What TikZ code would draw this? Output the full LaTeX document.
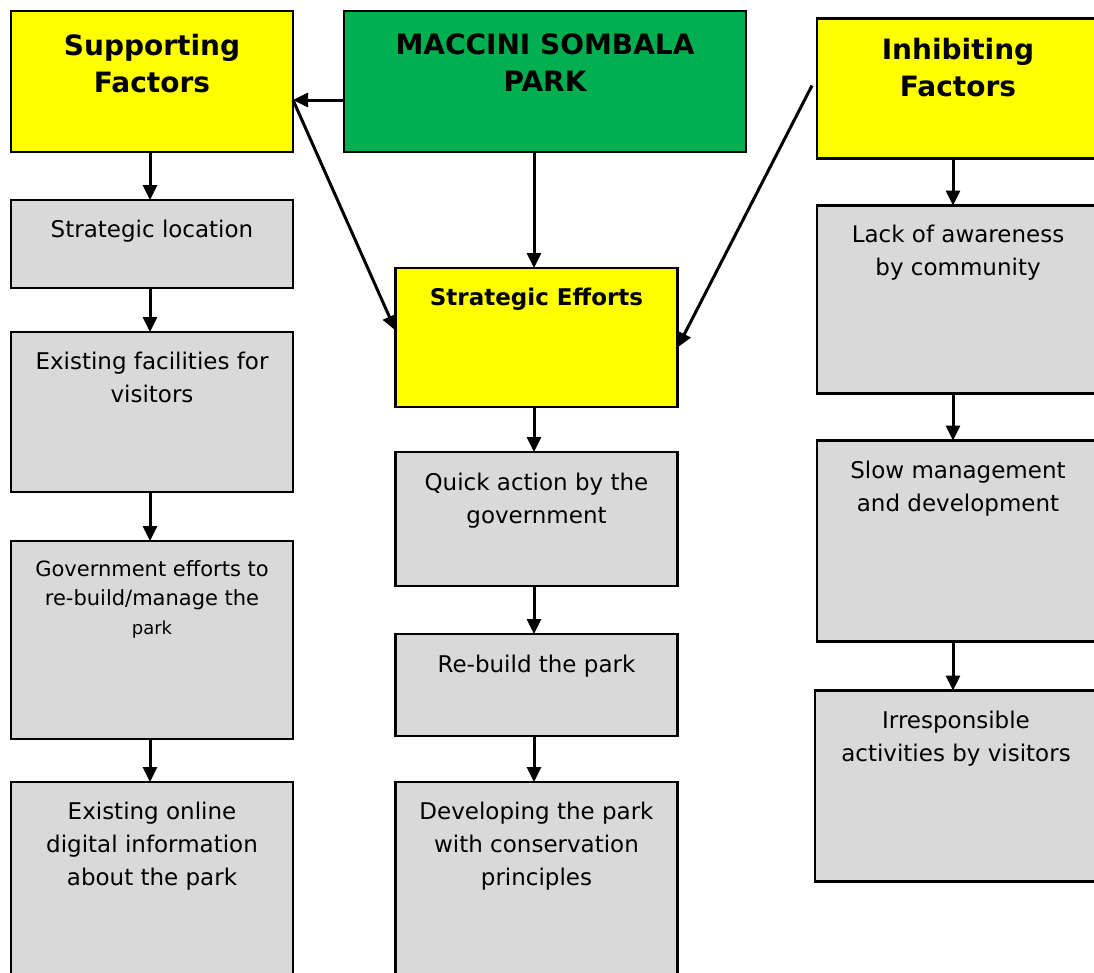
\documentclass[tikz,border=0pt]{standalone}
\usepackage{fontspec}
\setmainfont{DejaVu Sans}
\usepackage{tikz}
\usetikzlibrary{arrows.meta,positioning}
\definecolor{FYellow}{HTML}{FFFF00}
\definecolor{FGreen}{HTML}{00B050}
\definecolor{FGray}{HTML}{D9D9D9}
\newcommand{\celltext}[4][282pt]{\parbox[c][#2][t]{#1}{\centering\rule{0pt}{#3}#4\par}}

\begin{document}
\begin{tikzpicture}[x=1pt,y=-1pt,
  n/.style={draw,line width=2.2pt,fill=FGray,inner sep=0pt,outer sep=0pt,
    font=\fontsize{23}{33}\selectfont},
  h/.style={n,fill=FYellow,font=\bfseries\fontsize{28}{37}\selectfont},
  a/.style={-{Triangle[length=15pt,width=14pt]},line width=3pt}
]
  \useasboundingbox (0,0) rectangle (1094,972);
  % top row
  \node[h,anchor=north west] (support) at (11,11)
    {\celltext{141pt}{44pt}{Supporting\\Factors}};
  \node[h,fill=FGreen,right=51pt of support] (park)
    {\celltext[402pt]{141pt}{43pt}{MACCINI SOMBALA\\PARK}};
  \node[h,right=71pt of park,yshift=-7pt] (inhibit)
    {\celltext{140pt}{41pt}{Inhibiting\\Factors}};
  \node[h,font=\bfseries\fontsize{23}{33}\selectfont,below=116pt of park,xshift=-8.5pt] (efforts)
    {\celltext{139pt}{37pt}{Strategic Efforts}};
  % supporting column
  \node[n,below=48pt of support] (location) {\celltext{88pt}{37pt}{Strategic location}};
  \node[n,below=44pt of location] (facility) {\celltext{160pt}{37pt}{Existing facilities for\\visitors}};
  \node[n,font=\fontsize{21}{29}\selectfont,below=49pt of facility] (govt)
    {\celltext{198pt}{35pt}{Government efforts to\\re-build/manage the\\{\fontsize{18}{22}\selectfont park}}};
  \node[n,below=43pt of govt] (online) {\celltext{220pt}{37pt}{Existing online\\digital information\\about the park}};
  % efforts column
  \node[n,below=45pt of efforts] (quick) {\celltext{134pt}{38pt}{Quick action by the\\government}};
  \node[n,below=48pt of quick] (rebuild) {\celltext{102pt}{38pt}{Re-build the park}};
  \node[n,below=46pt of rebuild] (develop) {\celltext{220pt}{37pt}{Developing the park\\with conservation\\principles}};
  % inhibiting column
  \node[n,below=47pt of inhibit] (aware) {\celltext{188pt}{37pt}{Lack of awareness\\by community}};
  \node[n,below=47pt of aware] (slow) {\celltext{201pt}{38pt}{Slow management\\and development}};
  \node[n,below=49pt of slow,xshift=-2pt] (visitor) {\celltext{191pt}{38pt}{Irresponsible\\activities by visitors}};
  % connectors
  \coordinate (sjoin) at ([yshift=-18.5pt]support.east);
  \draw[a] (park.west |- sjoin) -- (sjoin);
  \draw[a] (sjoin) -- ([yshift=7pt]efforts.west);
  \draw[a] ([xshift=-5pt,yshift=3pt]inhibit.west) -- ([yshift=-10pt]efforts.east);
  \draw[a] ([xshift=-2.5pt]park.south -| efforts.north) -- ([xshift=-2.5pt]efforts.north);
  \draw[a] ([xshift=-2pt]support.south) -- ([xshift=-2pt]location.north);
  \draw[a] ([xshift=-2pt]location.south) -- ([xshift=-2pt]facility.north);
  \draw[a] ([xshift=-2pt]facility.south) -- ([xshift=-2pt]govt.north);
  \draw[a] ([xshift=-2pt]govt.south) -- ([xshift=-2pt]online.north);
  \draw[a] ([xshift=-2.5pt]efforts.south) -- ([xshift=-2.5pt]quick.north);
  \draw[a] ([xshift=-2.5pt]quick.south) -- ([xshift=-2.5pt]rebuild.north);
  \draw[a] ([xshift=-2.5pt]rebuild.south) -- ([xshift=-2.5pt]develop.north);
  \draw[a] ([xshift=-5pt]inhibit.south) -- ([xshift=-5pt]aware.north);
  \draw[a] ([xshift=-5pt]aware.south) -- ([xshift=-5pt]slow.north);
  \draw[a] ([xshift=-5pt]slow.south) -- ([xshift=-3pt]visitor.north);
\end{tikzpicture}
\end{document}
